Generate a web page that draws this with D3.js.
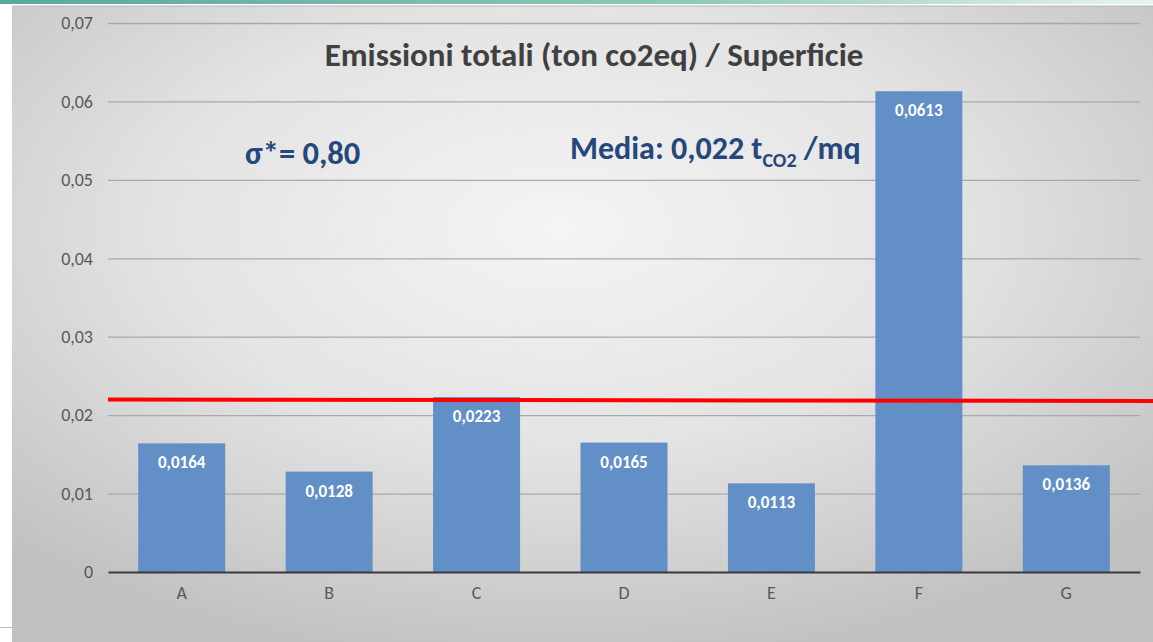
<!DOCTYPE html>
<html><head><meta charset="utf-8">
<script src="https://cdn.jsdelivr.net/npm/d3@7"></script>
<style>
html,body{margin:0;padding:0;background:#fff;}
svg{display:block;font-family:Calibri,Carlito,"Open Sans","Liberation Sans",sans-serif;}
</style></head>
<body>
<svg id="chart" width="1153" height="642"></svg>
<script>
const categories = ["A","B","C","D","E","F","G"];
const values = [0.0164,0.0128,0.0223,0.0165,0.0113,0.0613,0.0136];
const valueLabels = ["0,0164","0,0128","0,0223","0,0165","0,0113","0,0613","0,0136"];
const yTicks = [0,0.01,0.02,0.03,0.04,0.05,0.06,0.07];
const yTickLabels = ["0","0,01","0,02","0,03","0,04","0,05","0,06","0,07"];
const meanLine = [0.0220,0.0218];
const titleText = "Emissioni totali (ton co2eq) / Superficie";

const svg = d3.select("#chart");
const W = 1153, H = 642;
const defs = svg.append("defs");
const rg = defs.append("radialGradient").attr("id","bg").attr("cx","48%").attr("cy","35%").attr("r","70%");
rg.append("stop").attr("offset","0%").attr("stop-color","#f4f4f4");
rg.append("stop").attr("offset","50%").attr("stop-color","#e3e3e3");
rg.append("stop").attr("offset","100%").attr("stop-color","#c0c0c0");
const tg = defs.append("linearGradient").attr("id","topbar").attr("x1","0").attr("x2","1");
tg.append("stop").attr("offset","0%").attr("stop-color","#5aa89a");
tg.append("stop").attr("offset","60%").attr("stop-color","#8fc9bb");
tg.append("stop").attr("offset","100%").attr("stop-color","#e8f3f0");

svg.append("rect").attr("x",12).attr("y",6).attr("width",W-12).attr("height",H-6).attr("fill","url(#bg)");
svg.append("rect").attr("x",0).attr("y",0).attr("width",W).attr("height",4).attr("fill","url(#topbar)");
svg.append("line").attr("x1",12).attr("x2",W).attr("y1",6).attr("y2",6).attr("stroke","#b8b8b8").attr("stroke-width",1);
svg.append("line").attr("x1",0).attr("x2",12).attr("y1",627.5).attr("y2",627.5).attr("stroke","#bbb").attr("stroke-width",1);

const x = d3.scaleBand().domain(categories).range([108,1140]).paddingInner(0.41).paddingOuter(0.205);
const y = d3.scaleLinear().domain([0,0.07]).range([572,23]);

// gridlines
const grid = svg.append("g").attr("transform","translate(108,0)")
  .call(d3.axisLeft(y).tickValues(yTicks.filter(d=>d>0)).tickSize(-1032).tickFormat(""));
grid.select(".domain").remove();
grid.selectAll("line").attr("stroke","#a9a9a9").attr("stroke-width",1.3);

// y tick labels
const yAx = svg.append("g").attr("transform","translate(108,0)")
  .call(d3.axisLeft(y).tickValues(yTicks).tickSize(0).tickPadding(15).tickFormat((d,i)=>yTickLabels[i]));
yAx.select(".domain").remove();
yAx.selectAll("text").attr("font-size",18).attr("fill","#595959").attr("font-family","Calibri,Carlito,'Open Sans',sans-serif");

// bars
svg.append("g").selectAll("rect").data(values).join("rect")
  .attr("x",(d,i)=>x(categories[i])).attr("y",d=>y(d))
  .attr("width",x.bandwidth()).attr("height",d=>y(0)-y(d))
  .attr("fill","#618fc6");

// value labels
svg.append("g").selectAll("text").data(values).join("text")
  .attr("x",(d,i)=>x(categories[i])+x.bandwidth()/2).attr("y",d=>y(d)+25)
  .attr("text-anchor","middle").attr("font-size",17).attr("font-weight","bold").attr("fill","#fff")
  .text((d,i)=>valueLabels[i]);

// x axis
const xAx = svg.append("g").attr("transform","translate(0,572)")
  .call(d3.axisBottom(x).tickSize(0).tickPadding(14));
xAx.select(".domain").attr("stroke","#3a3a3a").attr("stroke-width",2.2);
xAx.selectAll("text").attr("font-size",18).attr("fill","#595959").attr("font-family","Calibri,Carlito,'Open Sans',sans-serif");

// mean line
svg.append("line").attr("x1",108).attr("x2",W).attr("y1",y(meanLine[0])).attr("y2",y(meanLine[1]))
  .attr("stroke","#ff0000").attr("stroke-width",4);

// title
svg.append("text").attr("x",594).attr("y",66).attr("text-anchor","middle")
  .attr("font-size",33).attr("font-weight","bold").attr("fill","#404040").text(titleText);

// annotations
svg.append("text").attr("x",245).attr("y",164).attr("font-size",32.5).attr("font-weight","bold").attr("fill","#24477c")
  .text("σ*= 0,80");
const med = svg.append("text").attr("x",570).attr("y",159).attr("font-size",32).attr("font-weight","bold").attr("fill","#24477c");
med.append("tspan").text("Media: 0,022 t");
med.append("tspan").attr("font-size",20).attr("dy",8).text("CO2");
med.append("tspan").attr("dy",-8).text(" /mq");
</script>
</body></html>
